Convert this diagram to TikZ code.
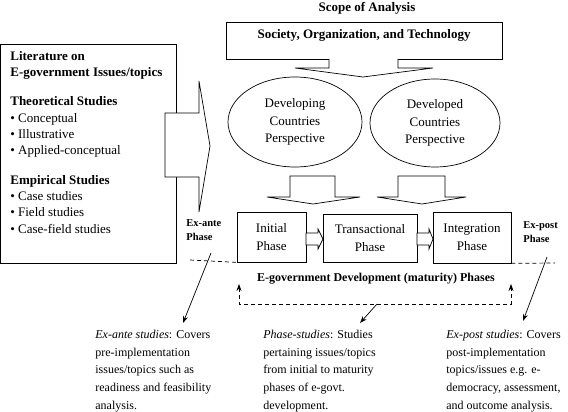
\documentclass[tikz,border=0pt]{standalone}
\usepackage{fontspec}
\setmainfont{Liberation Serif}
\usetikzlibrary{arrows.meta,shapes,positioning}

\begin{document}
\begin{tikzpicture}[x=1pt, y=-1pt, >={Stealth[length=7pt,width=5pt]}, line width=0.7pt, inner sep=0pt,
  box/.style={draw, rectangle},
  blockarrow/.style={draw, fill=white, line join=miter},
  txt/.style={font=\fontsize{13}{17.5}\selectfont, align=center},
  hdr/.style={font=\fontsize{13}{16}\selectfont\bfseries},
  phasetag/.style={font=\fontsize{10.5}{14}\selectfont\bfseries, align=left, anchor=north west},
  study/.style={font=\fontsize{12}{17.6}\selectfont, align=left, anchor=north west},
  dashline/.style={dash pattern=on 4pt off 3pt}]

\useasboundingbox (0,0) rectangle (568,412);

% literature box on the left
\node[box, anchor=north west, minimum width=175pt, minimum height=219pt] (lit) at (0.5,44) {};
\node[anchor=north west, align=left, font=\fontsize{13}{16.3}\selectfont] (littext) at (10,51)
  {\textbf{Literature on}\\
   \textbf{E-government Issues/topics}\\[13pt]
   \textbf{Theoretical Studies}\\
   \textbullet\ Conceptual\\
   \textbullet\ Illustrative\\
   \textbullet\ Applied-conceptual\\[13pt]
   \textbf{Empirical Studies}\\
   \textbullet\ Case studies\\
   \textbullet\ Field studies\\
   \textbullet\ Case-field studies};
\draw[blockarrow] (165,113) -- (199,113) -- (199,81) -- (210,146) -- (199,212) -- (199,177) -- (165,177) -- cycle;

% scope of analysis
\node[hdr] (scope) at (367,8) {Scope of Analysis};
\node[box, minimum width=276pt, minimum height=37pt] (sot) at (364,40.5) {};
\node[hdr] (sottext) at (364,35) {Society, Organization, and Technology};
\draw[blockarrow] (329,59) -- (329,68) -- (295,68) -- (363,77) -- (433,68) -- (398,68) -- (398,59);

% perspectives
\node[draw, ellipse, txt, minimum width=134pt, minimum height=90pt] (dev) at (295,122) {Developing\\Countries\\Perspective};
\node[draw, ellipse, txt, minimum width=130pt, minimum height=88pt] (devd) at (435,123) {Developed\\Countries\\Perspective};
\draw[blockarrow] (290,176) -- (335,176) -- (335,197) -- (360,197) -- (313,204) -- (267,197) -- (290,197) -- cycle;
\draw[blockarrow] (398,176) -- (445,176) -- (445,197) -- (466,197) -- (422,204) -- (377,197) -- (398,197) -- cycle;

% phases
\node[box, txt, minimum width=69pt, minimum height=50pt] (init) at (271.5,237) {Initial\\Phase};
\node[box, txt, minimum width=94pt, minimum height=48pt] (trans) at (370,238) {Transactional\\Phase};
\node[box, txt, minimum width=78pt, minimum height=51pt] (integ) at (472,237.5) {Integration\\Phase};
\draw[blockarrow] (306,233) -- (318,233) -- (318,229) -- (323,239) -- (318,249) -- (318,245) -- (306,245) -- cycle;
\draw[blockarrow] (417,233) -- (429,233) -- (429,229) -- (433,239) -- (429,249) -- (429,245) -- (417,245) -- cycle;

\node[phasetag] (exante) at (186,219) {Ex-ante\\Phase};
\node[phasetag] (expost) at (523,221) {Ex-post\\Phase};
\coordinate (anteend) at (190,260);
\coordinate (postend) at (555,263);
\draw[dashline] (anteend) -- (init.south west);
\draw[dashline] (integ.south east) -- (postend);

% development loop
\node[hdr, font=\fontsize{12}{14}\selectfont\bfseries] (maturity) at (376,279) {E-government Development (maturity) Phases};
\coordinate (loopl) at (239,284);
\coordinate (loopr) at (511,284);
\draw[dashline, <->] (loopl) -- (239,304) -- (511,304) -- (loopr);

% studies
\node[study] (antestudy) at (95,330) {\textit{Ex-ante studies}: Covers\\pre-implementation\\issues/topics such as\\readiness and feasibility\\analysis.};
\node[study] (phasestudy) at (263,330) {\textit{Phase-studies}: Studies\\pertaining issues/topics\\from initial to maturity\\phases of e-govt.\\development.};
\node[study] (poststudy) at (446,330) {\textit{Ex-post studies}: Covers\\post-implementation\\topics/issues e.g. e-\\democracy, assessment,\\and outcome analysis.};

\coordinate (antestart) at (211,253);
\coordinate (antetip) at (183,323);
\coordinate (phasestart) at (377,304);
\coordinate (phasetip) at (360,323);
\coordinate (poststart) at (547,257);
\coordinate (posttip) at (523,321);
\draw[->] (antestart) -- (antetip);
\draw[->] (phasestart) -- (phasetip);
\draw[->] (poststart) -- (posttip);

\end{tikzpicture}
\end{document}
